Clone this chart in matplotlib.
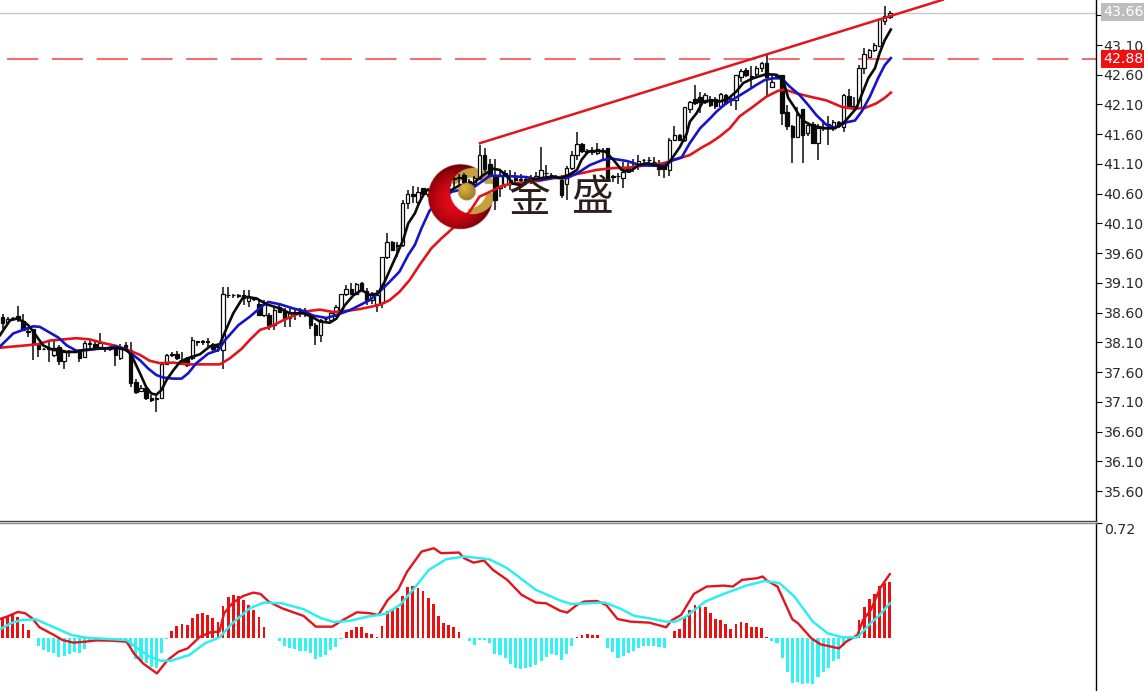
import numpy as np
import matplotlib
matplotlib.use("Agg")
import matplotlib.pyplot as plt

# candles
opens = [38.53,38.45,38.51,38.54,38.46,38.29,38.33,38.05,37.99,38.01,
         37.89,38.03,37.79,37.95,37.95,37.94,37.85,38.09,38.08,38.03,
         38.01,37.98,38.03,37.83,38.05,37.97,37.44,37.29,37.34,37.17,
         37.16,37.16,37.73,37.90,37.91,37.80,37.83,37.83,38.12,38.12,
         38.12,38.07,38.04,37.97,38.90,38.90,38.90,38.89,38.79,38.84,
         38.75,38.56,38.56,38.39,38.70,38.63,38.51,38.59,38.63,38.65,
         38.53,38.39,38.23,38.50,38.47,38.56,38.64,38.91,38.99,38.92,
         39.09,38.96,38.81,38.75,38.76,39.53,39.79,39.74,39.74,40.44,
         40.59,40.46,40.69,40.60,40.66,40.62,40.70,40.74,40.86,40.88,
         40.91,40.81,40.77,40.86,41.25,41.10,40.91,40.69,40.74,40.83,
         40.86,40.83,40.84,40.80,40.86,40.86,40.95,40.92,40.89,40.83,
         40.77,41.03,41.25,41.43,41.31,41.33,41.28,41.33,41.36,40.90,
         40.90,40.86,41.03,41.07,41.08,41.17,41.17,41.14,41.11,41.07,
         40.99,41.50,41.59,41.50,42.03,42.20,42.22,42.15,42.19,42.19,
         42.08,42.26,42.19,42.18,42.56,42.68,42.58,42.61,42.71,42.79,
         42.39,42.60,42.60,41.98,41.74,41.56,42.02,41.62,41.78,41.46,
         41.72,41.78,41.70,41.80,41.72,42.24,42.08,42.06,42.71,42.90,
         43.02,43.08,43.51,43.57]
highs = [38.57,38.53,38.53,38.71,38.57,38.32,38.33,38.08,38.01,38.11,
         38.14,38.05,37.97,37.97,37.97,37.97,38.13,38.14,38.14,38.25,
         38.03,38.00,38.05,38.08,38.10,38.10,37.48,37.38,37.38,37.21,
         37.19,37.75,37.90,37.94,37.96,37.93,37.85,38.19,38.13,38.14,
         38.17,38.09,38.08,39.03,39.03,38.92,38.92,38.98,38.98,38.87,
         38.81,38.81,38.59,38.70,38.75,38.67,38.67,38.67,38.67,38.68,
         38.59,38.43,38.50,38.53,38.63,38.73,38.92,39.06,39.09,39.09,
         39.11,39.01,38.95,38.98,39.54,39.94,39.80,39.79,40.50,40.66,
         40.73,40.72,40.70,40.70,40.72,40.76,40.80,40.86,40.92,40.93,
         40.95,40.84,40.90,41.42,41.36,41.19,41.19,41.02,41.00,41.00,
         40.97,40.93,40.88,40.92,40.97,41.39,41.08,40.94,40.91,40.91,
         41.07,41.32,41.64,41.45,41.35,41.39,41.46,41.36,41.36,40.91,
         40.94,41.14,41.11,41.19,41.25,41.19,41.22,41.22,41.17,41.11,
         41.53,41.73,41.61,42.06,42.16,42.43,42.31,42.29,42.25,42.22,
         42.29,42.28,42.26,42.60,42.69,42.72,42.74,42.74,42.82,42.95,
         42.61,42.62,42.60,42.09,41.76,42.05,42.02,41.80,41.81,41.78,
         41.84,41.90,41.84,41.83,42.28,42.36,42.23,42.77,43.05,43.03,
         43.13,43.55,43.76,43.67]
lows = [38.33,38.42,38.47,38.45,38.30,38.19,37.81,37.85,37.97,37.77,
        37.86,37.72,37.65,37.85,37.92,37.77,37.83,38.00,37.98,37.98,
        37.94,37.96,37.71,37.81,37.96,37.35,37.23,37.27,37.13,37.10,
        36.93,37.15,37.72,37.86,37.80,37.72,37.69,37.80,38.04,38.05,
        38.03,37.95,37.94,37.66,38.84,38.85,38.84,38.73,38.70,38.80,
        38.55,38.53,38.31,38.31,38.59,38.35,38.35,38.47,38.53,38.53,
        38.33,38.05,38.10,38.44,38.45,38.53,38.59,38.88,38.91,38.89,
        38.94,38.73,38.75,38.61,38.67,39.51,39.64,39.54,39.71,40.35,
        40.44,40.41,40.54,40.55,40.55,40.58,40.66,40.70,40.70,40.75,
        40.74,40.72,40.72,40.83,40.97,40.88,40.32,40.55,40.70,40.66,
        40.77,40.78,40.74,40.76,40.82,40.83,40.83,40.83,40.84,40.52,
        40.49,41.00,41.17,41.29,41.27,41.25,41.25,41.19,40.80,40.80,
        40.77,40.69,40.94,40.97,41.00,41.08,41.05,41.08,40.89,40.86,
        40.90,41.49,41.49,41.47,41.95,42.09,41.95,42.11,42.05,42.03,
        42.04,42.09,42.08,42.01,42.47,42.57,42.36,42.54,42.65,42.23,
        42.37,42.54,41.76,41.67,41.11,41.55,41.12,41.57,41.45,41.16,
        41.65,41.42,41.66,41.70,41.63,42.05,42.04,42.04,42.62,42.89,
        42.99,43.07,43.44,43.53]
closes = [38.43,38.50,38.49,38.50,38.31,38.27,38.08,37.98,37.98,37.99,
          38.00,37.79,37.94,37.93,37.93,37.83,38.09,38.07,38.01,38.09,
          37.99,37.98,37.89,37.98,37.97,37.41,37.27,37.34,37.16,37.13,
          37.15,37.73,37.89,37.89,37.83,37.73,37.72,38.14,38.11,38.11,
          38.10,37.99,38.02,38.91,38.89,38.89,38.88,38.84,38.88,38.83,
          38.56,38.75,38.39,38.64,38.61,38.50,38.59,38.58,38.62,38.59,
          38.39,38.23,38.47,38.49,38.60,38.69,38.91,39.00,38.92,39.08,
          38.96,38.81,38.89,38.89,39.54,39.79,39.65,39.72,40.45,40.60,
          40.56,40.63,40.60,40.66,40.62,40.70,40.74,40.80,40.84,40.86,
          40.80,40.79,40.86,41.25,41.02,40.91,40.49,40.90,40.94,40.77,
          40.83,40.85,40.80,40.86,40.89,41.00,40.94,40.91,40.87,40.58,
          41.04,41.25,41.43,41.31,41.30,41.30,41.35,41.31,40.83,40.88,
          40.89,40.97,41.02,41.06,41.15,41.16,41.16,41.13,41.01,41.01,
          41.51,41.59,41.51,42.05,42.15,42.13,42.15,42.26,42.09,42.07,
          42.28,42.12,42.18,42.59,42.67,42.60,42.54,42.71,42.79,42.56,
          42.48,42.58,41.95,41.74,41.56,41.92,41.59,41.76,41.46,41.70,
          41.70,41.70,41.81,41.73,42.26,42.06,42.05,42.71,42.95,43.02,
          43.10,43.53,43.58,43.64]

# moving averages: bar position, price
ma_black_x = [-0.5,1.45,2.75,4.05,5,6,7.9,9.9,11.2,12.5,14.4,15.7,19,22.9,24.2,25.1,26.8,28,29,30,31,32,33.3,34.6,
              36,38.5,40.4,42.4,43.4,45,47,49.5,51.5,54.1,56,58.6,60.3,61.9,63.8,65.1,66.8,68.4,70,71.6,73.2,
              74.5,75.8,77.1,78.1,79.1,80.4,81.3,82.6,87.5,89.1,91.7,93.7,95.6,96.9,98.2,99.5,101.2,102.8,104.8,
              107.4,108.7,110.3,112,112.9,114.2,116.2,117.5,119.1,120.7,122.3,124,125.6,127.5,129.2,130.5,132.1,
              133.4,134,135.3,136.6,138.3,139.9,141.5,143.1,144.4,146.3,148.9,150.9,152.2,153.2,154.5,155.1,156.4,
              158,160.3,162.3,164.2,166.5,167.5,168.8,170.1,171,172,173.2]
ma_black = [38.22,38.47,38.50,38.45,38.39,38.28,38.05,37.97,37.97,37.94,37.94,37.97,38.0,38.0,37.97,37.89,37.58,37.35,37.24,37.22,37.30,37.47,37.63,37.77,
            37.83,37.90,38.03,38.07,38.28,38.59,38.87,38.84,38.74,38.67,38.59,38.59,38.53,38.45,38.43,38.50,38.73,38.89,38.98,38.90,38.92,
            39.12,39.37,39.62,39.82,40.10,40.27,40.46,40.66,40.66,40.74,40.77,40.91,41.02,41.0,40.91,40.77,40.74,40.83,40.86,
            40.89,40.86,40.91,41.0,41.17,41.31,41.32,41.31,41.17,41.0,40.97,41.08,41.11,41.08,41.04,41.19,41.39,
            41.61,41.81,41.95,42.15,42.17,42.15,42.2,42.32,42.46,42.54,42.61,42.6,42.51,42.21,42.04,41.95,41.81,
            41.74,41.70,41.70,41.81,42.04,42.26,42.54,42.71,42.96,43.18,43.36]
ma_blue_x = [-0.5,0.8,2.1,4,6,7.3,8.9,10.9,12.5,14.4,16.4,18.3,20.3,21.9,23.5,25.1,26.8,28.4,30,31.3,33.3,34.9,36.2,
             37.8,40.1,42.1,43.4,46,48.2,50.5,51.8,54.1,56.7,58.6,60.6,63.2,65.1,67.7,70,71.6,73.5,75.5,77.4,79.1,
             80.4,81.7,83.3,87.5,92.1,95,97.6,102.1,104.8,107.4,110,112,114.5,117.1,118.8,121.7,124.3,126.9,128.8,
             130.8,132.4,134,136,138,139.2,141.1,143.1,145,147,148.6,150.2,151.9,153.5,155.4,157.1,158.7,160.6,
             162.3,164.5,166.2,167.5,169.1,170.7,172,173.2]
ma_blue = [38.03,38.14,38.25,38.31,38.37,38.36,38.28,38.18,38.05,37.96,37.97,37.99,38.0,38.03,38.0,37.91,37.80,37.66,37.55,37.51,37.49,37.49,37.58,
           37.75,37.91,37.97,38.14,38.39,38.53,38.70,38.78,38.74,38.67,38.63,38.55,38.51,38.56,38.64,38.74,38.81,38.95,39.12,39.29,39.57,
           39.74,40.02,40.32,40.63,40.72,40.90,40.90,40.88,40.83,40.87,40.86,40.94,41.08,41.17,41.19,41.15,41.08,41.07,41.07,
           41.17,41.21,41.45,41.70,41.87,41.98,42.12,42.22,42.32,42.43,42.51,42.54,42.54,42.40,42.26,42.09,41.92,41.76,
           41.71,41.80,41.83,41.98,42.23,42.54,42.76,42.88]
ma_red_x = [-0.5,2.1,4.7,7,9.2,11.8,14.4,17,19.6,22.2,24.5,26.8,28.7,30.7,33.3,36.2,39.8,42.4,44.3,46.6,48.2,50.2,52.1,
            54.7,57.3,59.9,61.9,64.5,67.1,69.7,73.5,75.5,77.4,79.4,81.3,83.6,85.6,87.8,91.1,93,95,97.6,100.2,103.4,
            107.4,110.6,113.2,115.8,119.1,122.3,125.6,128.8,131.8,134,136.6,137.9,139.8,141.8,143.7,146.3,148.9,
            151.2,152.5,155.1,158,160.6,163.6,165.8,168.1,170.4,172,173.2]
ma_red = [38.01,38.03,38.05,38.07,38.13,38.15,38.17,38.15,38.09,38.04,37.97,37.89,37.79,37.75,37.76,37.73,37.73,37.73,37.83,37.99,38.14,38.31,38.36,
          38.47,38.57,38.63,38.65,38.61,38.63,38.66,38.73,38.81,38.95,39.15,39.40,39.68,39.85,40.02,40.30,40.55,40.63,40.74,40.78,40.80,
          40.86,40.91,40.95,41.0,41.03,41.04,41.08,41.11,41.19,41.25,41.39,41.45,41.56,41.70,41.90,42.06,42.23,
          42.33,42.35,42.28,42.22,42.17,42.06,42.03,42.04,42.12,42.21,42.30]

# hand drawn objects on the price chart
trend_x = [93.1, 183.3]
trend_y = [41.45, 43.86]
level_price = 42.865
last_price = 43.64
box_last = 43.66
box_level = 42.88
price_ticks = [35.60,36.10,36.60,37.10,37.60,38.10,38.60,39.10,39.60,40.10,40.60,41.10,41.60,42.10,42.60,43.10,43.60]

# macd pane
hist = [.119,.130,.144,.134,.086,.050,-.002,-.050,-.075,-.090,
        -.092,-.117,-.111,-.103,-.090,-.092,-.071,-.017,-.006,-.004,
        -.004,-.004,-.004,-.004,-.004,-.055,-.130,-.143,-.158,-.179,
        -.185,-.095,-.004,.044,.076,.088,.080,.128,.149,.155,
        .145,.128,.101,.202,.256,.271,.265,.239,.208,.176,
        .134,.067,-.002,-.002,-.017,-.053,-.063,-.067,-.080,-.084,
        -.095,-.134,-.120,-.107,-.078,-.057,-.004,.040,.050,.071,
        .071,.034,.023,.004,.078,.166,.176,.187,.265,.317,
        .323,.313,.296,.250,.214,.139,.092,.082,.067,.040,
        -.002,-.021,-.046,-.010,-.013,-.029,-.099,-.109,-.126,-.164,
        -.185,-.193,-.185,-.179,-.172,-.147,-.116,-.101,-.105,-.139,
        -.101,-.048,.004,.019,.025,.021,.019,-.002,-.065,-.086,
        -.124,-.113,-.092,-.080,-.065,-.050,-.048,-.050,-.055,-.065,
        -.002,.044,.057,.124,.176,.208,.202,.191,.155,.120,
        .113,.086,.057,.086,.101,.092,.071,.067,.063,.004,
        -.017,-.034,-.126,-.214,-.284,-.277,-.288,-.284,-.288,-.242,
        -.214,-.189,-.147,-.130,-.053,-.017,-.004,.111,.197,.246,
        .273,.326,.347,.353]
macd_x = [-0.5,0.9,3,4.4,5.8,7.2,10,11.7,13.8,16.2,18.3,21.1,24.2,25.6,27.4,30.1,32.2,34.3,36.1,38.5,40.6,42.3,43.2,
          44.8,46.9,48.9,50.3,51.9,54.5,58.7,61.1,64.3,66.4,69.1,71.6,73.3,75.1,77.1,78.9,81.7,84.1,85.5,89,90,91.8,
          93.9,95.6,98.4,101.2,104,106,108.7,110.1,112,113.4,115.9,117.7,119.9,122.5,126.1,129.4,130.4,132.3,134.8,
          137.3,140.6,142.4,144.2,147.1,148.2,149,151.1,154,155.1,157.7,159.5,163.1,164.5,166.7,167.8,169.3,171.1,173]
macd = [.119,.134,.163,.155,.123,.067,.019,-.013,-.029,-.023,-.015,-.017,-.023,-.096,-.159,-.222,-.138,-.086,-.065,.008,.036,.040,.155,
        .217,.263,.284,.276,.228,.186,.138,.071,.071,.113,.161,.155,.144,.238,.301,.416,.541,.562,.531,.535,.500,.472,
        .485,.427,.364,.270,.222,.217,.171,.159,.207,.228,.232,.207,.119,.102,.096,.067,.109,.144,.276,
        .322,.328,.322,.364,.374,.385,.360,.322,.117,.092,-.002,-.040,-.065,-.023,.019,.113,.176,.312,.400]
signal_x = [-0.5,1.6,3.7,6.5,10,13.4,16.2,20.4,24.2,26.3,28.7,30.8,32.9,36.4,39.5,42.3,44.8,48.2,51,54.5,58.7,62.2,64.6,
            67.7,71.2,74.7,77.5,80.3,83.1,86.5,90,94.9,98.4,104,108.7,110.9,113.8,117.4,120.3,123.2,126.1,129.4,131.2,
            133.3,137,140.6,145,148.6,151.5,154.4,158,160.9,163.8,166.7,168.9,171,173]
signal = [.054,.092,.113,.117,.067,.019,.002,-.006,-.013,-.065,-.117,-.142,-.142,-.107,-.033,.004,.092,.186,.222,.217,.180,.123,.100,
          .107,.134,.151,.207,.312,.426,.493,.510,.493,.437,.301,.235,.213,.217,.222,.186,.138,.123,.102,.102,
          .134,.228,.276,.328,.357,.343,.259,.102,.029,.004,.004,.081,.144,.217]
macd_ticks = [0.72]

W, H = 1144, 691
TOP_END = 521      # pixel row where the price pane stops
LOW_START = 523
RIGHT = 1096
BLACK = "#0a0a0a"
RED = "#e2141c"
BLUE = "#1414c8"
CYAN = "#2eeef0"
SCALE_SIZE = 10.2

fig = plt.figure(figsize=(W / 100, H / 100), dpi=100, facecolor="white")
ax = fig.add_axes([0, (H - TOP_END) / H, RIGHT / W, TOP_END / H], zorder=2)
ax2 = fig.add_axes([0, 0, RIGHT / W, (H - LOW_START) / H], zorder=2)
under = fig.add_axes([0, 0, 1, 1], zorder=1)   # gold part of logo, below the lines
over = fig.add_axes([0, 0, 1, 1], zorder=3)    # rest of logo, above the lines
for a in (under, over):
    a.set_xlim(0, W)
    a.set_ylim(H, 0)
    a.axis("off")
over.patch.set_alpha(0)
ax.patch.set_alpha(0)
xlim = (-0.49, 213.2)

bars = np.arange(len(opens))
o = np.array(opens)
c = np.array(closes)
up = c >= o

# price pane
ax.axhline(last_price, color="#c8c8c8", lw=1, zorder=1)
ax.plot([0.9, xlim[1]], [level_price, level_price], color="#ee7070", lw=1.5, dashes=(15, 6.5), zorder=1)
ax.vlines(bars, lows, highs, color=BLACK, lw=1.1, zorder=2)
ax.bar(bars, np.abs(c - o), bottom=np.minimum(o, c), width=0.68,
       color=["white" if u else BLACK for u in up], edgecolor=BLACK, linewidth=0.9, zorder=3)
ax.plot(ma_red_x, ma_red, color=RED, lw=1.9, zorder=4)
ax.plot(ma_blue_x, ma_blue, color=BLUE, lw=1.9, zorder=5)
ax.plot(ma_black_x, ma_black, color=BLACK, lw=1.9, zorder=6)
ax.plot(trend_x, trend_y, color=RED, lw=1.8, zorder=6, clip_on=False)

ax.set_xlim(xlim)
ax.set_ylim(35.096, 43.857)
ax.set_xticks([])
ax.yaxis.tick_right()
ax.set_yticks(price_ticks)
ax.set_yticklabels(["%.2f" % t for t in price_ticks], fontsize=SCALE_SIZE, color="#2a2a2a")
ax.tick_params(axis="y", length=4, width=0.8, pad=1.5, color=BLACK)
for s in ("left", "top"):
    ax.spines[s].set_visible(False)
ax.spines["right"].set_linewidth(1)
ax.spines["bottom"].set_linewidth(1)
ax.spines["bottom"].set_color("#4a4a4a")

# price boxes on the scale
trans = ax.get_yaxis_transform()
ax.text(1.0065, box_last, "%.2f" % box_last, transform=trans, fontsize=SCALE_SIZE, color="white", va="center", clip_on=False,
        bbox=dict(facecolor="#bdbdbd", edgecolor="none", pad=1.4), zorder=8)
ax.text(1.0065, level_price, "%.2f" % box_level, transform=trans, fontsize=SCALE_SIZE, color="white", va="center", clip_on=False,
        bbox=dict(facecolor="#f01010", edgecolor="none", pad=1.6), zorder=8)

# macd pane
h = np.array(hist)
ax2.bar(bars[h >= 0], h[h >= 0], width=0.55, color="#ea1010", zorder=2)
ax2.bar(bars[h < 0], h[h < 0], width=0.6, color="#33f2f2", zorder=2)
ax2.plot(macd_x, macd, color=RED, lw=1.7, zorder=3)
ax2.plot(signal_x, signal, color=CYAN, lw=1.8, zorder=4)
ax2.set_xlim(xlim)
ax2.set_ylim(-0.332, 0.72)
ax2.set_xticks([])
ax2.yaxis.tick_right()
ax2.set_yticks(macd_ticks)
ax2.set_yticklabels(["%.2f" % t for t in macd_ticks], fontsize=SCALE_SIZE, color="#2a2a2a", va="top")
ax2.tick_params(axis="y", length=4, width=0.8, pad=1.5, color=BLACK)
for s in ("left", "bottom"):
    ax2.spines[s].set_visible(False)
ax2.spines["top"].set_linewidth(1)
ax2.spines["top"].set_color("#8a8a8a")
ax2.spines["right"].set_linewidth(1)

# logo, built as small rgba pictures in pixel space
x0, x1, y0, y1 = 424, 498, 160, 234
gx, gy = np.meshgrid(np.linspace(x0, x1, 296), np.linspace(y0, y1, 296))
def dist(cx, cy):
    return np.hypot(gx - cx, gy - cy)

outer = dist(460.5, 196.7) < 32.5
hole = dist(473, 191) < 23
crescent = outer & ~hole
shade = np.clip(dist(456, 200) / 34, 0, 1)
img = np.zeros(gx.shape + (4,))
img[..., 0] = 0.90 - 0.45 * shade ** 2
img[..., 1] = 0.05 * (1 - shade)
img[..., 2] = 0.08 * (1 - shade) + 0.03
img[..., 3] = crescent
ball = dist(466.8, 191.5)
ball_on = ball < 8.8
ball_shade = np.clip(dist(464.5, 188) / 11, 0, 1)
img[ball_on, 0] = 0.86 - 0.22 * ball_shade[ball_on]
img[ball_on, 1] = 0.72 - 0.22 * ball_shade[ball_on]
img[ball_on, 2] = 0.25 - 0.10 * ball_shade[ball_on]
img[ball_on, 3] = 1
over.imshow(img, extent=(x0, x1, y1, y0), aspect="auto", interpolation="bilinear", zorder=1)

gold_top = hole & (dist(471, 199) > 21) & (gy < 184)
gold_right = hole & (dist(467, 189) > 20) & (gy > 193) & (gx > 468)
gold = np.zeros(gx.shape + (4,))
gold[..., 0] = 0.78
gold[..., 1] = 0.63
gold[..., 2] = 0.24
gold[..., 3] = gold_top | gold_right
under.imshow(gold, extent=(x0, x1, y1, y0), aspect="auto", interpolation="bilinear", zorder=1)
for a in (under, over):
    a.set_xlim(0, W)
    a.set_ylim(H, 0)

cjk = ["Noto Sans CJK SC", "DejaVu Sans"]
over.text(530, 200, "金", family=cjk, fontsize=30, color="#2b1e1b", ha="center", va="center", zorder=2)
over.text(592, 199, "盛", family=cjk, fontsize=30, color="#2b1e1b", ha="center", va="center", zorder=2)

fig.savefig("out.png", dpi=100)
